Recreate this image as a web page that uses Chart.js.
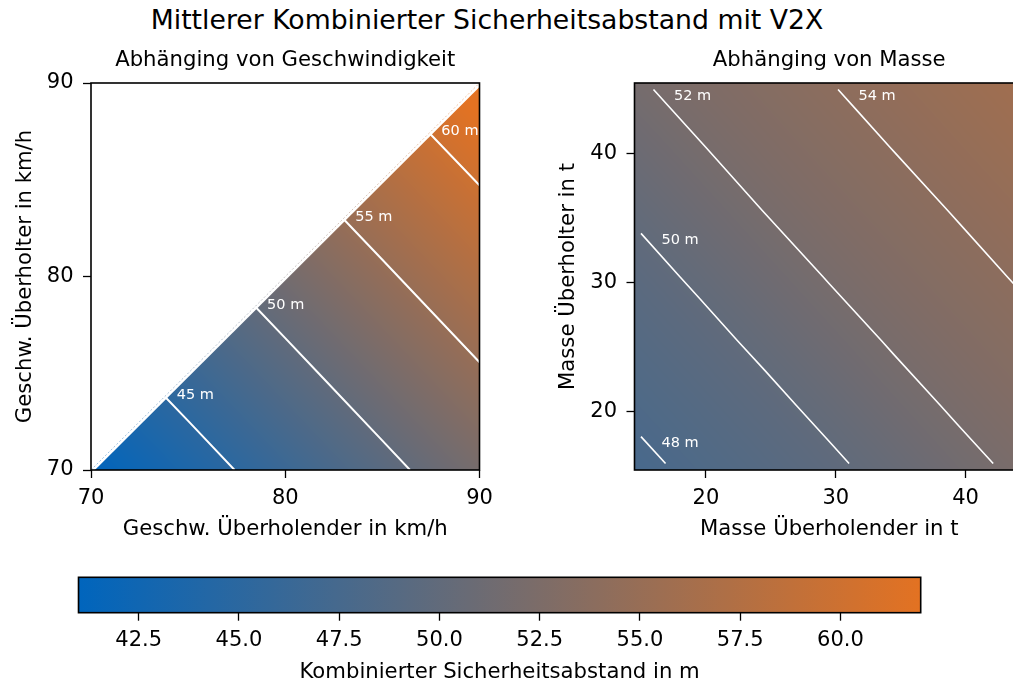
<!DOCTYPE html>
<html>
<head>
<meta charset="utf-8">
<script src="https://cdn.jsdelivr.net/npm/chart.js@4.4.1/dist/chart.umd.min.js"></script>
<style>
  html, body { margin: 0; padding: 0; width: 1013px; height: 682px; overflow: hidden; background: #fff; }
  .pane { position: absolute; }
  #suptitle { position: absolute; left: 0; top: 4px; width: 974px; text-align: center;
              font: 26.7px "DejaVu Sans", sans-serif; line-height: 32px; color: #000; white-space: nowrap; }
</style>
</head>
<body>
<div id="suptitle">Mittlerer Kombinierter Sicherheitsabstand mit V2X</div>
<canvas id="speedChart" class="pane" width="510" height="560" style="left:0;top:0"></canvas>
<canvas id="massChart" class="pane" width="520" height="560" style="left:540px;top:0"></canvas>
<canvas id="barChart" class="pane" width="1013" height="130" style="left:0;top:560px"></canvas>
<script>
// ---- colour scale (blue -> orange, linear in RGB) ----
const cbMin = 41.0;
const cbMax = 62.0;
const cbTicks = [42.5, 45.0, 47.5, 50.0, 52.5, 55.0, 57.5, 60.0];
const lowColor = [0, 101, 189];
const highColor = [227, 114, 34];

// ---- combined safety gap vs. speed (km/h); empty where overtaken >= overtaker ----
const speedOvertaker = [70, 75, 80, 85, 90];
const speedOvertaken = [70, 75, 80, 85, 90];
const gapSpeed70 = [41.00, 43.69, 46.43, 49.20, 52.01];
const gapSpeed75 = [null, 46.27, 49.04, 51.84, 54.69];
const gapSpeed80 = [null, null, 51.68, 54.53, 57.41];
const gapSpeed85 = [null, null, null, 57.24, 60.16];
const gapSpeed90 = [null, null, null, null, 62.95];
const speedLevels = [45, 50, 55, 60];
const speedTicks = [70, 80, 90];

// ---- combined safety gap vs. mass (t) ----
const massOvertaker = [14.5, 19.5, 24.5, 29.5, 34.5, 39.5, 44.5];
const massOvertaken = [15.5, 20.5, 25.5, 30.5, 35.5, 40.5, 45.5];
const gapMass15 = [47.63, 48.28, 48.94, 49.66, 50.52, 51.47, 52.33];
const gapMass20 = [48.22, 48.87, 49.58, 50.43, 51.38, 52.25, 52.99];
const gapMass25 = [48.81, 49.51, 50.34, 51.28, 52.17, 52.92, 53.58];
const gapMass30 = [49.43, 50.25, 51.19, 52.09, 52.85, 53.52, 54.17];
const gapMass35 = [50.16, 51.09, 52.01, 52.78, 53.45, 54.10, 54.75];
const gapMass40 = [51.00, 51.92, 52.71, 53.39, 54.04, 54.69, 55.34];
const gapMass45 = [51.84, 52.63, 53.32, 53.97, 54.62, 55.27, 55.92];
const massLevels = [48, 50, 52, 54];
const massTicks = [20, 30, 40];
// simulated mass range (contours only exist inside it)
const massRangeOvertaker = [15, 44];
const massRangeOvertaken = [16, 45];

const speedGrid = { xs: speedOvertaker, ys: speedOvertaken,
                    rows: [gapSpeed70, gapSpeed75, gapSpeed80, gapSpeed85, gapSpeed90] };
const massGrid = { xs: massOvertaker, ys: massOvertaken,
                   rows: [gapMass15, gapMass20, gapMass25, gapMass30, gapMass35, gapMass40, gapMass45] };

Chart.defaults.font.family = '"DejaVu Sans", sans-serif';
Chart.defaults.color = '#000';

const rgb = (c, a = 1) => `rgba(${c[0]},${c[1]},${c[2]},${a})`;

// cells are split along the falling diagonal; cells cut by the
// overtaker = overtaken edge keep only their lower-right triangle
function fieldValue(grid, x, y) {
  const { xs, ys, rows } = grid;
  if (x < xs[0] || x > xs[xs.length - 1] || y < ys[0] || y > ys[ys.length - 1]) return null;
  let i = 0; while (i < xs.length - 2 && x > xs[i + 1]) i++;
  let j = 0; while (j < ys.length - 2 && y > ys[j + 1]) j++;
  const a = (x - xs[i]) / (xs[i + 1] - xs[i]);
  const b = (y - ys[j]) / (ys[j + 1] - ys[j]);
  const bl = rows[j][i], br = rows[j][i + 1], tr = rows[j + 1][i + 1], tl = rows[j + 1][i];
  if (tl === null) {
    if (b > a || bl === null || br === null || tr === null) return null;
    return bl + a * (br - bl) + b * (tr - br);
  }
  if (a + b <= 1) {
    if (bl === null || br === null) return null;
    return bl + a * (br - bl) + b * (tl - bl);
  }
  if (br === null || tr === null) return null;
  return tr + (1 - a) * (tl - tr) + (1 - b) * (br - tr);
}

function buildTriangles(grid) {
  const { xs, ys, rows } = grid;
  const tris = [];
  const node = (i, j) => ({ x: xs[i], y: ys[j], v: rows[j][i] });
  for (let j = 0; j < ys.length - 1; j++) {
    for (let i = 0; i < xs.length - 1; i++) {
      const bl = node(i, j), br = node(i + 1, j), tr = node(i + 1, j + 1), tl = node(i, j + 1);
      const pair = tl.v === null ? [[bl, br, tr]] : [[bl, br, tl], [br, tr, tl]];
      for (const t of pair) if (t.every(n => n.v !== null)) tris.push(t);
    }
  }
  return tris;
}

function contourSegments(tris, level) {
  const segs = [];
  for (const t of tris) {
    const pts = [];
    for (let k = 0; k < 3; k++) {
      const a = t[k], b = t[(k + 1) % 3];
      const da = a.v - level, db = b.v - level;
      if ((da < 0 && db >= 0) || (da >= 0 && db < 0)) {
        const s = da / (da - db);
        pts.push({ x: a.x + s * (b.x - a.x), y: a.y + s * (b.y - a.y) });
      }
    }
    if (pts.length === 2) segs.push(pts);
  }
  return segs;
}

const near = (p, q) => Math.abs(p.x - q.x) < 1e-6 && Math.abs(p.y - q.y) < 1e-6;

function traceContour(tris, level) {
  const segs = contourSegments(tris, level);
  if (!segs.length) return [];
  const line = segs.shift().slice();
  let grown = true;
  while (grown && segs.length) {
    grown = false;
    for (let k = 0; k < segs.length; k++) {
      const [a, b] = segs[k];
      const head = line[0], tail = line[line.length - 1];
      if (near(a, tail)) line.push(b);
      else if (near(b, tail)) line.push(a);
      else if (near(a, head)) line.unshift(b);
      else if (near(b, head)) line.unshift(a);
      else continue;
      segs.splice(k, 1);
      grown = true;
      break;
    }
  }
  return line;
}

function clipSegment(p, q, box) {
  let t0 = 0, t1 = 1;
  const dx = q.x - p.x, dy = q.y - p.y;
  const checks = [[-dx, p.x - box.x0], [dx, box.x1 - p.x], [-dy, p.y - box.y0], [dy, box.y1 - p.y]];
  for (const [pp, qq] of checks) {
    if (pp === 0) { if (qq < 0) return null; continue; }
    const r = qq / pp;
    if (pp < 0) { if (r > t1) return null; if (r > t0) t0 = r; }
    else { if (r < t0) return null; if (r < t1) t1 = r; }
  }
  return [{ x: p.x + t0 * dx, y: p.y + t0 * dy }, { x: p.x + t1 * dx, y: p.y + t1 * dy }];
}

function clipLine(pts, box) {
  if (!box) return pts;
  const pieces = [];
  let cur = [];
  for (let k = 0; k < pts.length - 1; k++) {
    const c = clipSegment(pts[k], pts[k + 1], box);
    if (!c) { if (cur.length) { pieces.push(cur); cur = []; } continue; }
    if (!cur.length) cur.push(c[0]);
    else if (!near(cur[cur.length - 1], c[0])) { pieces.push(cur); cur = [c[0]]; }
    cur.push(c[1]);
    if (!near(c[1], pts[k + 1])) { pieces.push(cur); cur = []; }
  }
  if (cur.length) pieces.push(cur);
  pieces.sort((a, b) => b.length - a.length);
  return pieces[0] || [];
}

function contourDatasets(grid, levels, box, width) {
  const tris = buildTriangles(grid);
  return levels.map(level => {
    let pts = clipLine(traceContour(tris, level), box);
    if (pts.length && pts[0].y < pts[pts.length - 1].y) pts = pts.reverse();
    return {
      label: `${level} m`,
      data: pts,
      showLine: true,
      borderColor: '#ffffff',
      borderWidth: width,
      pointRadius: 0,
      tension: 0,
      fill: false
    };
  });
}

// shaded field, evaluated per pixel through the chart scales
const fieldPlugin = {
  id: 'field',
  beforeDatasetsDraw(chart, args, opts) {
    const { ctx, chartArea: a, scales: { x, y } } = chart;
    const L = Math.floor(a.left), T = Math.floor(a.top);
    const W = Math.ceil(a.right) - L, H = Math.ceil(a.bottom) - T;
    const off = document.createElement('canvas');
    off.width = W; off.height = H;
    const octx = off.getContext('2d');
    const img = octx.createImageData(W, H);
    for (let py = 0; py < H; py++) {
      const vy = y.getValueForPixel(T + py + 0.5);
      for (let px = 0; px < W; px++) {
        const vx = x.getValueForPixel(L + px + 0.5);
        const v = fieldValue(opts.grid, vx, vy);
        if (v === null) continue;
        const t = Math.min(1, Math.max(0, (v - cbMin) / (cbMax - cbMin)));
        const k = 4 * (py * W + px);
        img.data[k] = Math.round(lowColor[0] + t * (highColor[0] - lowColor[0]));
        img.data[k + 1] = Math.round(lowColor[1] + t * (highColor[1] - lowColor[1]));
        img.data[k + 2] = Math.round(lowColor[2] + t * (highColor[2] - lowColor[2]));
        img.data[k + 3] = 255;
      }
    }
    octx.putImageData(img, 0, 0);
    ctx.save();
    ctx.beginPath();
    ctx.rect(a.left, a.top, a.width, a.height);
    ctx.clip();
    ctx.drawImage(off, L, T);
    ctx.restore();
  }
};

// diagonal edge, contour labels and the axes frame
const decorPlugin = {
  id: 'decor',
  afterDatasetsDraw(chart, args, opts) {
    const { ctx, chartArea: a, scales: { x, y } } = chart;
    ctx.save();
    ctx.beginPath();
    ctx.rect(a.left, a.top, a.width, a.height);
    ctx.clip();
    if (opts.diagonal) {
      const [lo, hi] = opts.diagonal;
      const x0 = x.getPixelForValue(lo), y0 = y.getPixelForValue(lo);
      const x1 = x.getPixelForValue(hi), y1 = y.getPixelForValue(hi);
      ctx.beginPath();
      ctx.moveTo(x0, y0);
      ctx.lineTo(x1, y1);
      ctx.strokeStyle = '#ffffff';
      ctx.lineWidth = 5.5;
      ctx.stroke();
      const g = ctx.createLinearGradient(x0, y0, x1, y1);
      g.addColorStop(0, rgb(lowColor, 0.5));
      g.addColorStop(1, rgb(highColor, 0.5));
      ctx.beginPath();
      ctx.setLineDash([2, 2]);
      ctx.moveTo(x0, y0);
      ctx.lineTo(x1, y1);
      ctx.strokeStyle = g;
      ctx.lineWidth = 0.8;
      ctx.stroke();
      ctx.setLineDash([]);
    }
    ctx.fillStyle = '#ffffff';
    ctx.font = '14.5px "DejaVu Sans", sans-serif';
    ctx.textAlign = 'left';
    ctx.textBaseline = 'middle';
    chart.data.datasets.forEach(ds => {
      if (!ds.data.length) return;
      const p = ds.data[0];
      ctx.fillText(ds.label, x.getPixelForValue(p.x) + opts.dx, y.getPixelForValue(p.y) + opts.dy);
    });
    ctx.restore();
    ctx.save();
    ctx.strokeStyle = '#000';
    ctx.lineWidth = 1.6;
    ctx.strokeRect(a.left, a.top, a.width, a.height);
    ctx.restore();
  }
};

function makeAxis(cfg) {
  const horizontal = cfg.position === 'bottom';
  return {
    type: 'linear',
    position: cfg.position,
    min: cfg.min,
    max: cfg.max,
    afterBuildTicks: s => { s.ticks = cfg.ticks.map(v => ({ value: v })); },
    afterFit: s => { if (horizontal) s.height = cfg.size; else s.width = cfg.size; },
    grid: { display: true, drawOnChartArea: false, drawTicks: true, tickLength: 8, tickWidth: 1.3, tickColor: '#000', color: '#000' },
    border: { display: false },
    ticks: {
      color: '#000', font: { size: 21 }, padding: cfg.tickPad, maxRotation: 0, minRotation: 0,
      autoSkip: false, callback: cfg.format || (v => String(v))
    },
    title: { display: !!cfg.title, text: cfg.title || '', color: '#000', font: { size: 21.2 }, padding: cfg.titlePad || 0 }
  };
}

// top axis only carries the panel heading, centred over the plot area
function headingAxis(min, max, text) {
  return {
    type: 'linear',
    position: 'top',
    min, max,
    afterBuildTicks: s => { s.ticks = []; },
    afterFit: s => { s.height = 83; },
    grid: { display: false },
    border: { display: false },
    ticks: { display: false },
    title: { display: true, text, color: '#000', font: { size: 21.2, lineHeight: 1.2 }, padding: { top: 47.4, bottom: 0 } }
  };
}

function panelChart(id, o) {
  return new Chart(document.getElementById(id), {
    type: 'scatter',
    data: { datasets: o.datasets },
    options: {
      responsive: false,
      animation: false,
      devicePixelRatio: 1,
      events: [],
      layout: { padding: o.padding },
      scales: { x: o.x, y: o.y, heading: headingAxis(o.x.min, o.x.max, o.title) },
      plugins: {
        legend: { display: false },
        tooltip: { enabled: false },
        field: { grid: o.grid },
        decor: o.decor
      }
    },
    plugins: [fieldPlugin, decorPlugin]
  });
}

// ---- left panel: speed ----
panelChart('speedChart', {
  title: 'Abhänging von Geschwindigkeit',
  grid: speedGrid,
  datasets: contourDatasets(speedGrid, speedLevels, null, 2.0),
  padding: { left: 0, right: 30.5, top: 0, bottom: 17.5 },
  x: makeAxis({ position: 'bottom', min: speedOvertaker[0], max: speedOvertaker[speedOvertaker.length - 1], ticks: speedTicks,
                size: 72.5, tickPad: 7.7, title: 'Geschw. Überholender in km/h' }),
  y: makeAxis({ position: 'left', min: speedOvertaken[0], max: speedOvertaken[speedOvertaken.length - 1], ticks: speedTicks,
                size: 91, tickPad: 9.5, title: 'Geschw. Überholter in km/h', titlePad: { top: 12.5 } }),
  decor: { dx: 12, dy: -1.5, diagonal: [speedOvertaker[0], speedOvertaker[speedOvertaker.length - 1]] }
});

// ---- right panel: mass ----
const massBox = { x0: massRangeOvertaker[0], x1: massRangeOvertaker[1], y0: massRangeOvertaken[0], y1: massRangeOvertaken[1] };
panelChart('massChart', {
  title: 'Abhänging von Masse',
  grid: massGrid,
  datasets: contourDatasets(massGrid, massLevels, massBox, 1.6),
  padding: { left: 0, right: 36, top: 0, bottom: 17.5 },
  x: makeAxis({ position: 'bottom', min: massOvertaker[0], max: massOvertaker[massOvertaker.length - 1], ticks: massTicks,
                size: 72.5, tickPad: 7.7, title: 'Masse Überholender in t' }),
  y: makeAxis({ position: 'left', min: massOvertaken[0], max: massOvertaken[massOvertaken.length - 1], ticks: massTicks,
                size: 94.5, tickPad: 9.5, title: 'Masse Überholter in t', titlePad: { top: 16 } }),
  decor: { dx: 20.5, dy: 7 }
});

// ---- colour bar ----
const barPlugin = {
  id: 'colorbar',
  beforeDatasetsDraw(chart) {
    const { ctx, chartArea: a, scales: { x } } = chart;
    const g = ctx.createLinearGradient(x.getPixelForValue(cbMin), 0, x.getPixelForValue(cbMax), 0);
    g.addColorStop(0, rgb(lowColor));
    g.addColorStop(1, rgb(highColor));
    ctx.save();
    ctx.fillStyle = g;
    ctx.fillRect(a.left, a.top, a.width, a.height);
    ctx.strokeStyle = '#000';
    ctx.lineWidth = 1.6;
    ctx.strokeRect(a.left, a.top, a.width, a.height);
    ctx.restore();
  }
};
new Chart(document.getElementById('barChart'), {
  type: 'scatter',
  data: { datasets: [{ data: [], pointRadius: 0 }] },
  options: {
    responsive: false,
    animation: false,
    devicePixelRatio: 1,
    events: [],
    layout: { padding: { left: 78.5, right: 92.3, top: 17.3, bottom: 4.8 } },
    scales: {
      x: makeAxis({ position: 'bottom', min: cbMin, max: cbMax, ticks: cbTicks, size: 72.5, tickPad: 7.7,
                    title: 'Kombinierter Sicherheitsabstand in m', format: v => v.toFixed(1) }),
      y: { type: 'linear', display: false, min: 0, max: 1 }
    },
    plugins: { legend: { display: false }, tooltip: { enabled: false } }
  },
  plugins: [barPlugin]
});
</script>
</body>
</html>
